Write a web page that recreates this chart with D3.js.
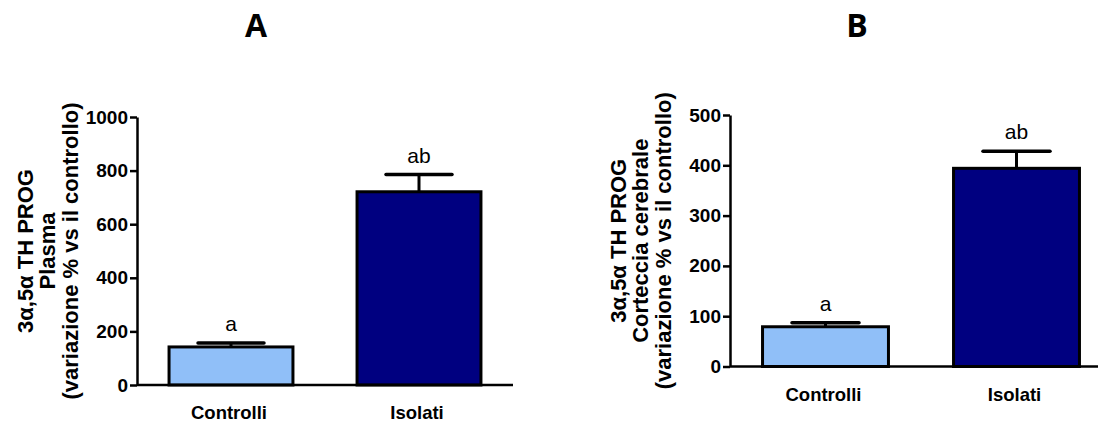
<!DOCTYPE html>
<html>
<head>
<meta charset="utf-8">
<script src="https://cdn.jsdelivr.net/npm/d3@7"></script>
<style>
  html, body { margin: 0; padding: 0; background: #fff; }
  svg { display: block; }
</style>
</head>
<body>
<svg id="chart" width="1098" height="423"></svg>
<script>
// Groups and measurements (mean and SEM, % change vs control)
const categories = ["Controlli", "Isolati"];
const plasmaMeans = [142, 721];
const plasmaSEM = [15, 64];
const cortexMeans = [79, 394];
const cortexSEM = [8, 34];
const sigLabels = ["a", "ab"];
const plasmaTicks = [0, 200, 400, 600, 800, 1000];
const cortexTicks = [0, 100, 200, 300, 400, 500];
const barColors = ["#90bff8", "#000080"];

const FONT = "'Liberation Sans', Arial, sans-serif";
const svg = d3.select("#chart");

function panel(cfg) {
  const g = svg.append("g");
  const y = d3.scaleLinear().domain(cfg.domain).range([cfg.bottom, cfg.top]);
  const x = d3.scaleBand().domain(categories)
    .range([cfg.axisX, cfg.axisX + cfg.span])
    .paddingInner(0.325).paddingOuter(0.1625);

  // panel letter
  g.append("text")
    .attr("x", cfg.letterX).attr("y", 37)
    .attr("text-anchor", "middle")
    .style("font-family", "'Open Sans', sans-serif")
    .style("font-weight", "bold").style("font-size", "32px")
    .text(cfg.letter);

  // bars
  const bw = x.bandwidth();
  g.selectAll("rect.bar").data(cfg.means).enter().append("rect")
    .attr("class", "bar")
    .attr("x", (d, i) => x(categories[i]) + 1.5)
    .attr("width", bw - 3)
    .attr("y", d => y(d))
    .attr("height", d => y(0) - y(d))
    .attr("fill", (d, i) => barColors[i])
    .attr("stroke", "#000").attr("stroke-width", 3);

  // error bars (upper whisker only), significance letters, group names
  cfg.means.forEach((m, i) => {
    const cx = x(categories[i]) + bw / 2;
    const top = y(m + cfg.sem[i]);
    const capHalf = bw * 0.26;
    g.append("line").attr("x1", cx).attr("x2", cx)
      .attr("y1", y(m)).attr("y2", top)
      .attr("stroke", "#000").attr("stroke-width", 3);
    g.append("line").attr("x1", cx - capHalf).attr("x2", cx + capHalf)
      .attr("y1", top).attr("y2", top)
      .attr("stroke", "#000").attr("stroke-width", 3.5).attr("stroke-linecap", "round");
    g.append("text")
      .attr("x", cx).attr("y", top - 12)
      .attr("text-anchor", "middle")
      .style("font-family", FONT)
      .style("font-size", "21px")
      .text(sigLabels[i]);
    g.append("text")
      .attr("x", cx - 2).attr("y", cfg.bottom + 34)
      .attr("text-anchor", "middle")
      .style("font-family", FONT)
      .style("font-weight", "bold").style("font-size", "18.5px")
      .text(categories[i]);
  });

  // x baseline
  g.append("line")
    .attr("x1", cfg.axisX).attr("x2", cfg.axisX + cfg.span)
    .attr("y1", y(0)).attr("y2", y(0))
    .attr("stroke", "#000").attr("stroke-width", 2.5);

  // y axis
  const ax = g.append("g")
    .attr("transform", `translate(${cfg.axisX},0)`)
    .call(d3.axisLeft(y).tickValues(cfg.ticks).tickFormat(d3.format("d"))
      .tickSize(7).tickSizeOuter(0).tickPadding(2));
  ax.select(".domain").attr("stroke-width", 2.5);
  ax.selectAll(".tick line").attr("stroke-width", 2.5);
  ax.selectAll(".tick text")
    .attr("font-family", null).attr("font-size", null)
    .style("font-family", FONT)
    .style("font-weight", "bold")
    .style("font-size", "19px")
    .attr("fill", "#000");

  // y axis title, three lines
  const midY = (cfg.top + cfg.bottom) / 2;
  const offs = [-104, -82, -59];
  cfg.titleLines.forEach((t, i) => {
    g.append("text")
      .attr("transform", `translate(${cfg.axisX + offs[i]},${midY}) rotate(-90)`)
      .attr("text-anchor", "middle")
      .style("font-family", FONT)
      .style("font-weight", "bold").style("font-size", "22px")
      .text(t);
  });
}

panel({
  letter: "A", letterX: 256,
  axisX: 137, span: 376, top: 117, bottom: 385,
  domain: [0, 1000], ticks: plasmaTicks,
  means: plasmaMeans, sem: plasmaSEM,
  titleLines: ["3α,5α TH PROG", "Plasma", "(variazione % vs il controllo)"]
});

panel({
  letter: "B", letterX: 857,
  axisX: 730, span: 382, top: 115, bottom: 366.5,
  domain: [0, 500], ticks: cortexTicks,
  means: cortexMeans, sem: cortexSEM,
  titleLines: ["3α,5α TH PROG", "Corteccia cerebrale", "(variazione % vs il controllo)"]
});
</script>
</body>
</html>
